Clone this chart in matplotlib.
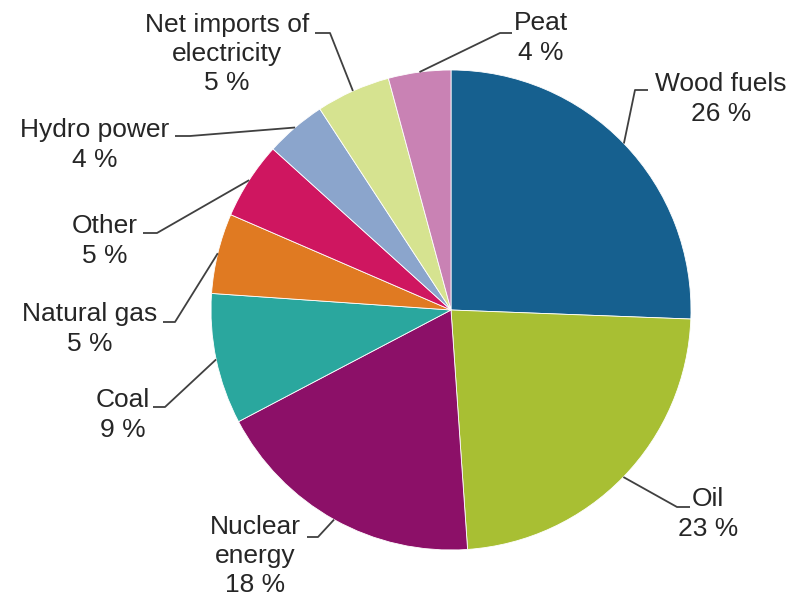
import numpy as np
import matplotlib
matplotlib.use("Agg")
import matplotlib.pyplot as plt

plt.rcParams['font.family'] = ['Liberation Sans', 'DejaVu Sans']

# Energy sources, clockwise from the top
sources = ["Wood fuels", "Oil", "Nuclear\nenergy", "Coal", "Natural gas",
           "Other", "Hydro power", "Net imports of\nelectricity", "Peat"]
shares = [25.6, 23.3, 18.4, 8.8, 5.4, 5.2, 4.1, 5.0, 4.2]
share_labels = ["26 %", "23 %", "18 %", "9 %", "5 %", "5 %", "4 %", "5 %", "4 %"]
colors = ["#16608f", "#a8bf33", "#8c1068", "#2aa79e", "#e07a22",
          "#cf1660", "#8ba5cc", "#d6e390", "#c982b4"]

# layout (pixel coords, y from top): text centre, elbow point, stub end
text_pos = [(721, 99), (708, 514), (255, 556), (123, 415), (90, 329),
            (105, 241), (95, 145), (227, 54), (541, 38)]
elbows = [(635, 90), (677, 507), (318, 537), (165, 407), (175, 322),
          (157, 233), (190, 136), (330, 33), (500, 33)]
stubs = [(648, 90), (690, 507), (307, 537), (153, 407), (163, 322),
         (143, 233), (175, 136), (315, 33), (512, 33)]

W, H = 798, 600
cx, cy, r = 451, 310, 240

fig = plt.figure(figsize=(W / 100, H / 100), dpi=100)
ax = fig.add_axes([0, 0, 1, 1])

wedges, _ = ax.pie(shares, colors=colors, startangle=90, counterclock=False,
                   center=(cx, H - cy), radius=r,
                   wedgeprops=dict(linewidth=0.6, edgecolor="white"))

for w, name, pct, (tx, ty), (ex, ey), (sx, sy) in zip(
        wedges, sources, share_labels, text_pos, elbows, stubs):
    ang = np.deg2rad((w.theta1 + w.theta2) / 2)
    px = cx + r * np.cos(ang)
    py = (H - cy) + r * np.sin(ang)
    ax.plot([px, ex, sx], [py, H - ey, H - sy], color="#404040", lw=1.3,
            solid_capstyle="butt")
    ax.text(tx, H - ty, name + "\n" + pct, ha="center", va="center",
            fontsize=19, color="#262626", linespacing=1.28)

ax.set_xlim(0, W)
ax.set_ylim(0, H)
ax.set_aspect("equal")
ax.axis("off")

fig.savefig("out.png", dpi=100)
